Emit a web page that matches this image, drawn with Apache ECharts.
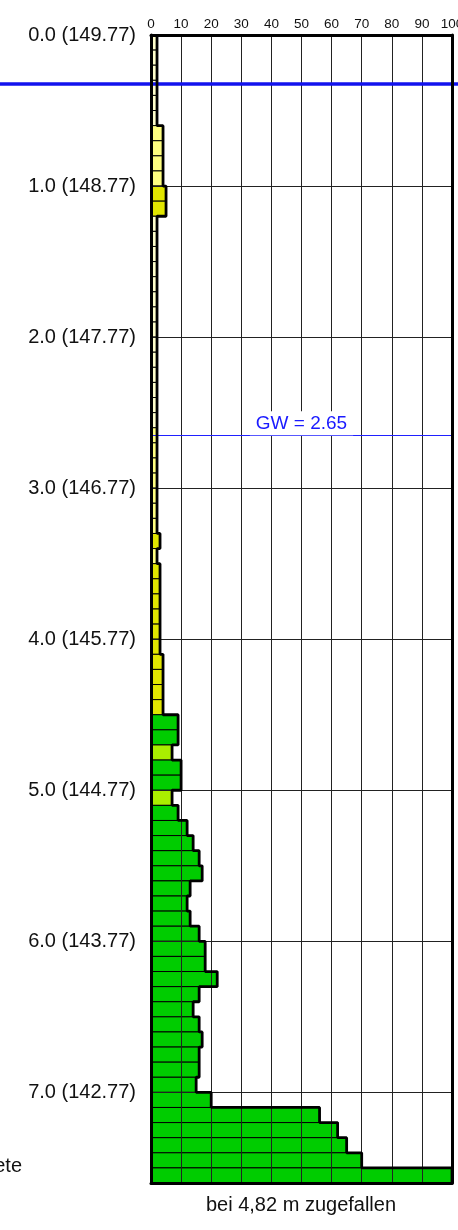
<!DOCTYPE html>
<html><head><meta charset="utf-8">
<script src="https://cdn.jsdelivr.net/npm/echarts@6/dist/echarts.min.js"></script>
<style>html,body{margin:0;padding:0;background:#fff}#c{width:458px;height:1230px}</style>
</head><body><div id="c"></div>
<script>
// ---- data ----
const rowStep = 0.1;            // each bar covers 0.1 m of depth
// blow counts per 0.1 m, from 0.0 m downward
const blows = [
  2,2,2,2,2,2,          // 0.0-0.6
  4,4,4,4,              // 0.6-1.0
  5,5,                  // 1.0-1.2
  2,2,2,2,2,2,2,2,2,2,2,2,2,2,   // 1.2-2.6
  2,2,2,2,2,2,2,        // 2.6-3.3
  3,                    // 3.3-3.4
  2,                    // 3.4-3.5
  3,3,3,3,3,3,          // 3.5-4.1
  4,4,4,4,              // 4.1-4.5
  9,9,7,10,10,7,9,12,14,16,17,13,12,13,16,18,18,22,16,14,16,17,16,16,15,20,56,62,65,70,100
];
// layer colour class per row
const layer = [
  'c','c','c','c','c','c',
  'ly','ly','ly','ly',
  'y','y',
  'c','c','c','c','c','c','c','c','c','c','c','c','c','c',
  'ly','ly','ly','ly','ly','ly','ly',
  'y',
  'ly',
  'y','y','y','y','y','y',
  'y','y','y','y',
  'g','g','lg','g','g','lg','g','g','g','g','g','g','g','g','g','g','g','g','g','g','g','g','g','g','g','g','g','g','g','g','g'
];
const layerColors = { c:'#ffffcc', ly:'#ffff80', y:'#e1e600', g:'#00cc00', lg:'#aaee00' };
const yLabels = ['0.0 (149.77)','1.0 (148.77)','2.0 (147.77)','3.0 (146.77)','4.0 (145.77)','5.0 (144.77)','6.0 (143.77)','7.0 (142.77)'];
const depthMax = 7.6;
const gwDepth = 2.65;
const gwLabel = 'GW = 2.65';
const surfaceLine = 0.32;
const footText = 'bei 4,82 m zugefallen';
const sideText = 'ete';

// ---- chart ----
const FONT = '"Liberation Sans", Arial, sans-serif';
const rows = blows.map((b, i) => [i * rowStep, (i + 1) * rowStep, b, i]);
const outline = [];
blows.forEach((b, i) => { outline.push([b, i * rowStep]); outline.push([b, (i + 1) * rowStep]); });

const chart = echarts.init(document.getElementById('c'), null, { renderer: 'canvas' });
const gridPos = { left: 151, right: 6, top: 35, bottom: 47 };
chart.setOption({
  animation: false,
  backgroundColor: '#fff',
  grid: [
    Object.assign({ outerBoundsMode: 'none', containLabel: false }, gridPos),
    { left: 0, right: 0, top: gridPos.top, bottom: gridPos.bottom, outerBoundsMode: 'none', containLabel: false }
  ],
  xAxis: [
    { type: 'value', gridIndex: 0, position: 'top', min: 0, max: 100, interval: 10, z: 5,
      axisLine: { show: true, lineStyle: { color: '#000', width: 3 } },
      axisTick: { show: false },
      axisLabel: { color: '#111', fontSize: 13.5, fontFamily: FONT, margin: 4, hideOverlap: false },
      splitLine: { show: true, lineStyle: { color: '#222', width: 1 } } },
    { type: 'value', gridIndex: 0, position: 'bottom', min: 0, max: 100, z: 6,
      axisLine: { show: true, onZero: false, lineStyle: { color: '#000', width: 3 } },
      axisTick: { show: false }, axisLabel: { show: false }, splitLine: { show: false } },
    { type: 'value', gridIndex: 1, min: 0, max: 1, show: false }
  ],
  yAxis: [
    { type: 'value', gridIndex: 0, inverse: true, min: 0, max: depthMax, interval: 1, z: 5,
      axisLine: { show: true, onZero: false, lineStyle: { color: '#000', width: 3 } },
      axisTick: { show: false },
      axisLabel: { color: '#111', fontSize: 20, fontFamily: FONT, margin: 15, padding: [8, 0, 0, 0],
        showMaxLabel: false,
        formatter: v => { const r = Math.round(v); return Math.abs(v - r) < 1e-6 && yLabels[r] ? yLabels[r] : ''; } },
      splitLine: { show: true, lineStyle: { color: '#222', width: 1 } } },
    { type: 'value', gridIndex: 0, position: 'right', inverse: true, min: 0, max: depthMax, z: 6,
      axisLine: { show: true, onZero: false, lineStyle: { color: '#000', width: 3 } },
      axisTick: { show: false }, axisLabel: { show: false }, splitLine: { show: false } },
    { type: 'value', gridIndex: 1, inverse: true, min: 0, max: depthMax, show: false }
  ],
  series: [
    { type: 'custom', xAxisIndex: 0, yAxisIndex: 0, z: 2,
      data: rows,
      encode: { x: 2, y: [0, 1] },
      renderItem: (params, api) => {
        const top = api.value(0), bot = api.value(1), b = api.value(2), i = api.value(3);
        const p0 = api.coord([0, top]);
        const p1 = api.coord([b, bot]);
        return { type: 'rect',
          shape: { x: p0[0], y: p0[1], width: p1[0] - p0[0], height: p1[1] - p0[1] },
          style: { fill: layerColors[layer[i]], stroke: '#000', lineWidth: 1 } };
      } },
    { type: 'line', xAxisIndex: 0, yAxisIndex: 0, z: 10, data: outline,
      symbol: 'none', silent: true,
      lineStyle: { color: '#000', width: 2.8 },
      markLine: { silent: true, symbol: 'none', animation: false,
        data: [{ yAxis: gwDepth }],
        lineStyle: { color: '#2020ff', width: 1, type: 'solid' },
        label: { show: true, position: 'insideMiddleTop', distance: 0, formatter: gwLabel,
          color: '#1a1aff', fontSize: 19, fontFamily: FONT, backgroundColor: '#fff', padding: [3, 6, 2, 6] } } },
    { type: 'line', xAxisIndex: 2, yAxisIndex: 2, z: 12, data: [], symbol: 'none',
      markLine: { silent: true, symbol: 'none', animation: false,
        data: [{ yAxis: surfaceLine }],
        lineStyle: { color: '#1212ee', width: 3.5, type: 'solid' },
        label: { show: false } } }
  ],
  graphic: [
    { type: 'text', x: 301, y: 1205, style: { text: footText, fill: '#111', font: '20px ' + FONT, textAlign: 'center', textVerticalAlign: 'middle' } },
    { type: 'text', x: 22, y: 1166, style: { text: sideText, fill: '#111', font: '20px ' + FONT, textAlign: 'right', textVerticalAlign: 'middle' } }
  ]
});
</script></body></html>
